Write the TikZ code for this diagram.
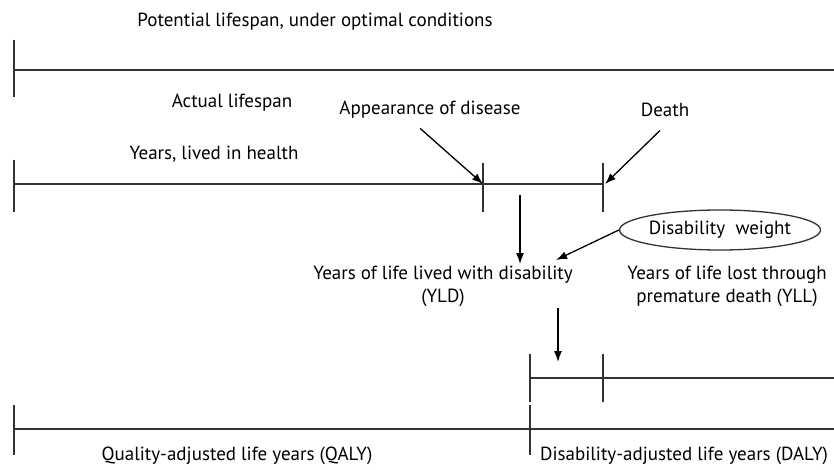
\documentclass[tikz,border=0pt]{standalone}
\usepackage{fontspec}
\setmainfont{PT Sans}
\usetikzlibrary{shapes.geometric,arrows.meta}
\begin{document}
\begin{tikzpicture}[x=1pt,y=-1pt,font=\fontsize{19}{23}\selectfont,line width=1.3pt,draw=black!80,text=black]
        \useasboundingbox (0,0) rectangle (834,470);
        \tikzset{label/.style={inner sep=1pt},
                 pointer/.style={-{Latex[length=11pt,width=8pt]},line width=1.3pt,draw=black,fill=black}}

        \node[label] (potential) at (315,22) {Potential lifespan, under optimal conditions};
        \draw (14,70) -- (834,70);
        \draw (14,40) -- (14,97);

        \node[label] (actual) at (232,103) {Actual lifespan};
        \node[label] (appear) at (430,110) {Appearance of disease};
        \node[label] (death) at (665,110) {Death};
        \node[label] (health) at (214,154) {Years, lived in health};
        \draw (14,184) -- (603,184);
        \draw (14,160) -- (14,212);
        \draw (483,163) -- (483,212);
        \draw (603,163) -- (603,212);
        \coordinate (onset) at (483,184);
        \coordinate (end) at (605,184);
        \draw[pointer] ([xshift=-10pt,yshift=-8pt]appear.south) -- (onset);
        \draw[pointer] ([xshift=-5pt,yshift=-12pt]death.south) -- (end);

        \node[draw,ellipse,minimum width=172pt,minimum height=40pt,inner sep=0pt] (weight) at (720,230) {Disability\; weight};
        \node[label,align=center] (yld) at (443,286) {Years of life lived with disability\\(YLD)};
        \node[label,align=center] (yll) at (727,286) {Years of life lost through\\premature death (YLL)};
        \coordinate (mid) at (520,195);
        \draw[pointer] (mid) -- (mid |- yld.north);
        \draw[pointer] (weight.west) -- (556,260);
        \coordinate (yldbase) at (558,308);
        \draw[pointer] (yldbase) -- (558,362);

        \draw (530,378) -- (834,378);
        \draw (530,354) -- (530,402);
        \draw (603,354) -- (603,402);

        \draw (14,429) -- (834,429);
        \draw (14,405) -- (14,455);
        \draw (530,405) -- (530,455);
        \node[label] (qaly) at (237,456) {Quality-adjusted life years (QALY)};
        \node[label] (daly) at (684,456) {Disability-adjusted life years (DALY)};
\end{tikzpicture}
\end{document}
